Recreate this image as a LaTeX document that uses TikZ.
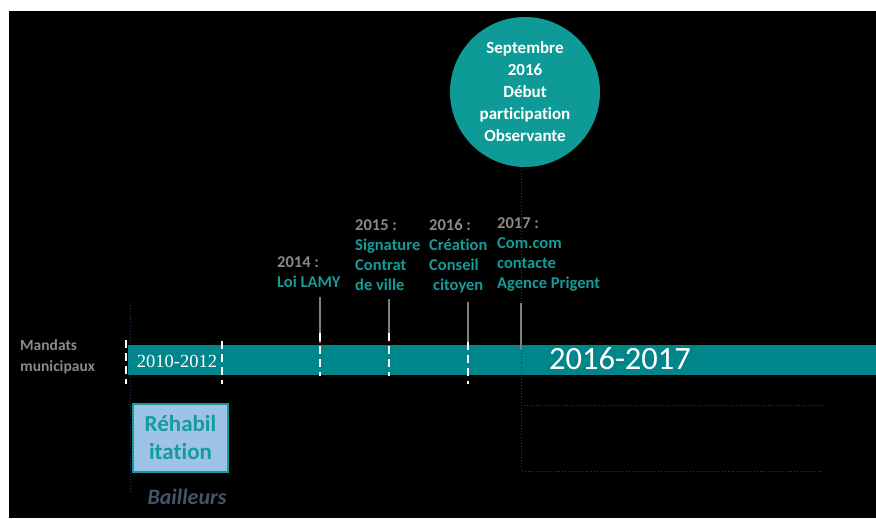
\documentclass[tikz,border=0pt]{standalone}
\usepackage{fontspec}
\setmainfont{Carlito}[Ligatures=NoCommon]
\newfontfamily\yearserif{Liberation Serif}
\definecolor{barteal}{HTML}{00858A}
\definecolor{circteal}{HTML}{0E9A97}
\definecolor{txtteal}{HTML}{159C99}
\definecolor{labgrey}{HTML}{8A8A8A}
\definecolor{tickgrey}{HTML}{808080}
\definecolor{boxblue}{HTML}{9DC3E6}
\definecolor{dotblue}{HTML}{203864}
\definecolor{slate}{HTML}{44546A}
\begin{document}
\begin{tikzpicture}[x=1pt, y=-1pt,
    event/.style={anchor=north west, inner sep=0, align=left, text=txtteal,
        font=\bfseries\fontsize{16.5}{20}\selectfont},
    greytick/.style={draw=tickgrey, line width=2.5pt},
    whitetick/.style={draw=white, line width=2.5pt, dash pattern=on 8pt off 5pt},
    guide/.style={draw=dotblue, line width=0.9pt, dotted}]
    % Background
    \fill[white] (0,0) rectangle (876,519);
    \fill[black] (9,11) rectangle (876,518);
    % Left guide line, behind the bar
    \coordinate (gtop) at (130,302);
    \coordinate (gbot) at (130,493);
    \draw[guide] (gtop) -- (gbot);
    % Timeline bar
    \fill[barteal] (128,345) rectangle (876,375);
    \node[text=white, font=\yearserif\fontsize{18.5}{20}\selectfont] (p1) at (177,361) {2010-2012};
    \node[text=white, font=\fontsize{32.5}{36}\selectfont] (p2) at (620,359) {2016-2017};
    \node[anchor=north west, inner sep=0, align=left, text=labgrey,
        font=\bfseries\fontsize{15.5}{21}\selectfont] (mandats) at (20,339) {Mandats\\municipaux};
    % Mandate limits
    \draw[whitetick] (126,340) -- (126,384);
    \draw[whitetick] (222,341) -- (222,384);
    % Circle
    \node[circle, fill=circteal, minimum size=150pt, inner sep=0, align=center, text=white,
        font=\bfseries\fontsize{17}{22}\selectfont] (obs) at (525,92)
        {Septembre\\2016\\Début\\participation\\Observante};
    \coordinate (c1) at (521,405);
    \coordinate (c2) at (521,471);
    \coordinate (e1) at (823,405);
    \coordinate (e2) at (823,471);
    \draw[guide] (obs.south -| c2) -- (c2) -- (e2);
    \draw[guide] (c1) -- (e1);
    % Events
    \node[event] (ev14) at (277,256) {{\color{labgrey}2014 :}\\Loi LAMY};
    \node[event] (ev15) at (355,219) {{\color{labgrey}2015 :}\\Signature\\Contrat\\de ville};
    \node[event] (ev16) at (429,219) {{\color{labgrey}2016 :}\\Création\\Conseil\\\hspace{4pt}citoyen};
    \node[event] (ev17) at (497,217) {{\color{labgrey}2017 :}\\Com.com\\contacte\\Agence Prigent};
    % Ticks
    \draw[greytick] (320,297) -- (320,343);
    \draw[whitetick] (320,333) -- (320,376);
    \draw[greytick] (389,299) -- (389,333);
    \draw[whitetick] (389,333) -- (389,376);
    \draw[greytick] (468,302) -- (468,342);
    \draw[whitetick] (468,342) -- (468,384);
    \draw[greytick] (521,303) -- (521,350);
    % Landlords
    \node[draw=txtteal, line width=1.5pt, fill=boxblue, minimum width=95pt, minimum height=68pt,
        align=center, text=txtteal, font=\bfseries\fontsize{23}{28}\selectfont] (rehab) at (180.5,438) {Réhabil\\itation};
    \node[text=slate, font=\bfseries\itshape\fontsize{22}{24}\selectfont] (bail) at (187,497) {Bailleurs};
\end{tikzpicture}
\end{document}
